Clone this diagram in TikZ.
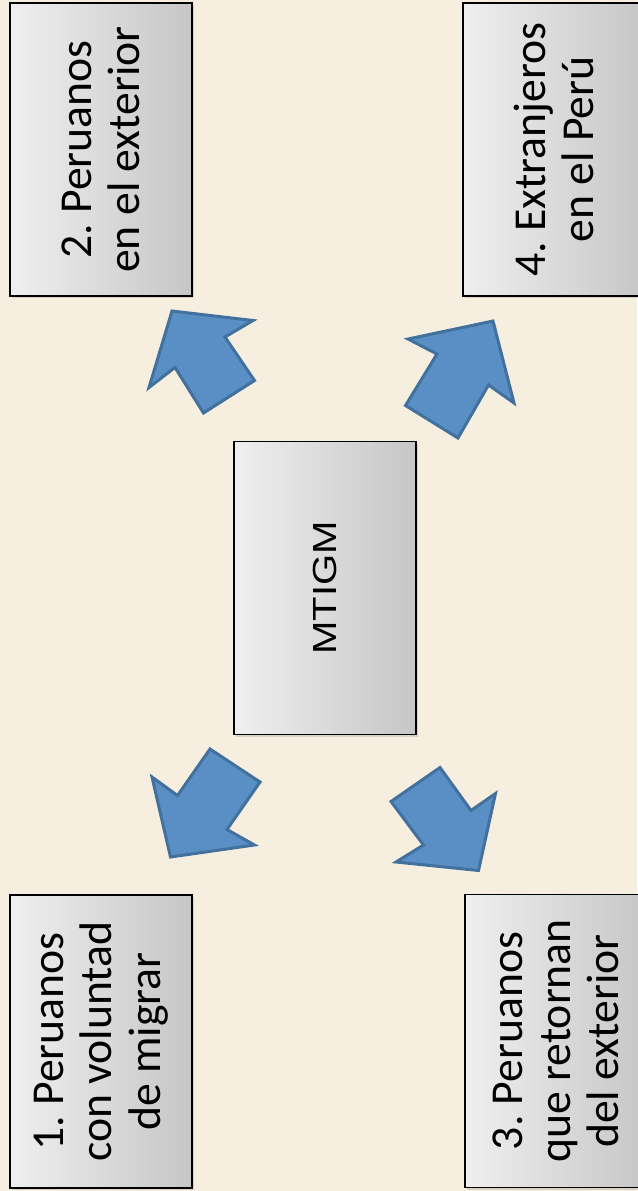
\documentclass[tikz,border=0pt]{standalone}
\usepackage{fontspec}
\setmainfont{Carlito}
\newfontfamily\mtfont{Liberation Sans}
\usepackage{xcolor}
\frenchspacing
\definecolor{paper}{HTML}{F6EFE0}
\definecolor{boxlight}{HTML}{EFEFEF}
\definecolor{boxdark}{HTML}{C6C6C6}
\definecolor{arrowfill}{HTML}{5A8FC6}
\definecolor{arrowline}{HTML}{41719C}
\tikzset{
  groupbox/.style={draw=black, line width=1pt, left color=boxlight, right color=boxdark,
    rotate=90, minimum width=5.86cm, minimum height=3.64cm, inner sep=0pt, align=center,
    font=\fontsize{26}{27.5}\selectfont,
    preaction={fill=black, opacity=0.12, transform canvas={xshift=1.4pt, yshift=-1.4pt}}},
  blockarrow/.style={fill=arrowfill, draw=arrowline, line width=1.7pt, line join=miter}
}

\begin{document}
\begin{tikzpicture}[x=0.02cm, y=-0.02cm]
        \useasboundingbox (0,0) rectangle (637,1191);
        \fill[paper] (0,0) rectangle (637,1191);
        \node[groupbox] (peruext) at (101,149.5) {2. Peruanos\\en el exterior};
        \node[groupbox] (extranj) at (554,149.5) {4. Extranjeros\\en el Per\'u};
        \node[groupbox] (mtigm) at (325,588) {\mtfont\fontsize{19}{21}\selectfont\scalebox{1.2}[1]{MTIGM}};
        \node[groupbox] (voluntad) at (101,1041.5) {1. Peruanos\\con voluntad\\de migrar};
        \node[groupbox] (retorno) at (556,1041) {3. Peruanos\\que retornan\\del exterior};
        \filldraw[blockarrow] (172,311) -- (253,320.5) -- (225,337) -- (254.5,380.5) -- (203.5,413) -- (175,367.5) -- (149,387.5) -- cycle;
        \filldraw[blockarrow] (493,321) -- (514,403) -- (488.5,385) -- (458,438) -- (405.5,405.5) -- (437,354) -- (408,339) -- cycle;
        \filldraw[blockarrow] (170.5,857) -- (152,777) -- (177.5,795.5) -- (210,749) -- (260,782) -- (227,829.5) -- (254.5,845) -- cycle;
        \filldraw[blockarrow] (478.5,870.5) -- (396,862) -- (423.5,845) -- (391,801.5) -- (440,767.5) -- (471,810.5) -- (495.5,793.5) -- cycle;
    \end{tikzpicture}
\end{document}
